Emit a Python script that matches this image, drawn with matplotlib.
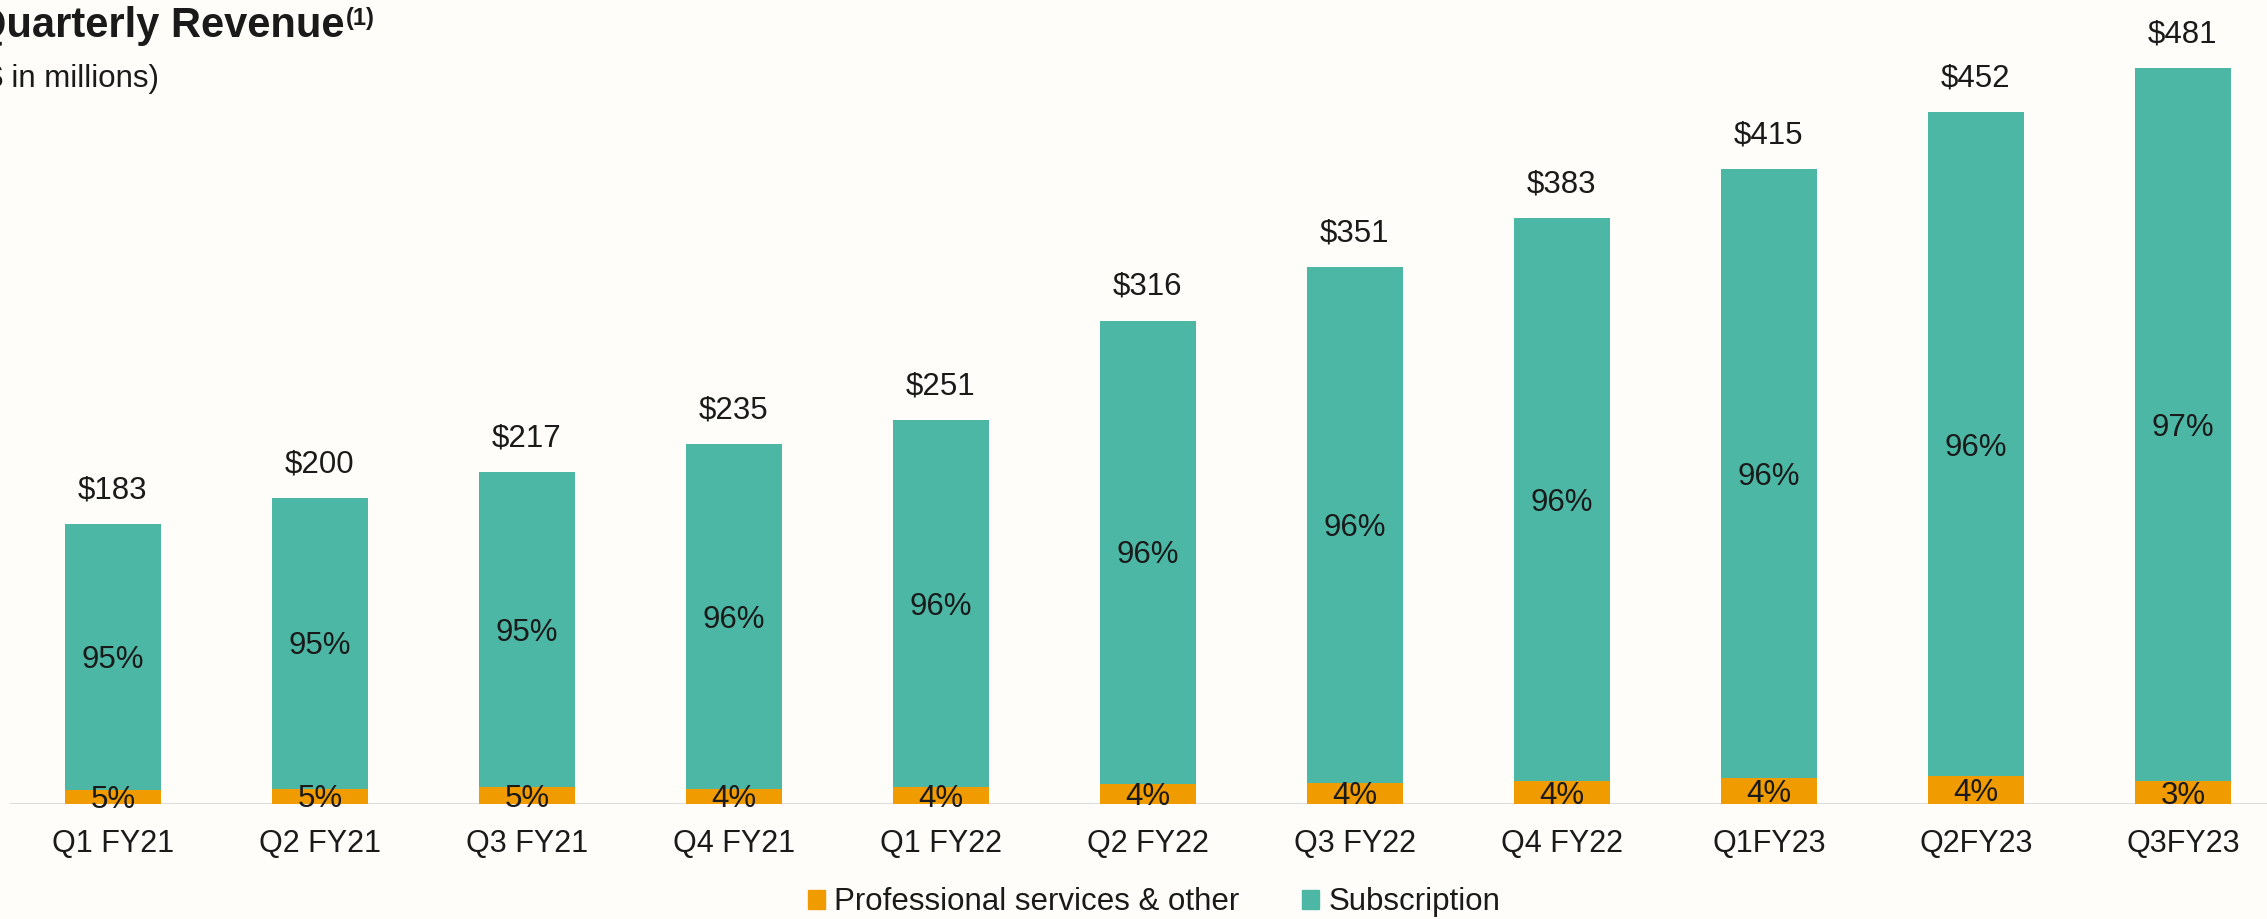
import matplotlib.pyplot as plt
from matplotlib.patches import Patch

# quarterly revenue, $ in millions
quarters = ["Q1 FY21", "Q2 FY21", "Q3 FY21", "Q4 FY21", "Q1 FY22", "Q2 FY22",
            "Q3 FY22", "Q4 FY22", "Q1FY23", "Q2FY23", "Q3FY23"]
totals = [183, 200, 217, 235, 251, 316, 351, 383, 415, 452, 481]
prof_services = [9, 10, 11, 10, 11, 13, 14, 15, 17, 18, 15]
subscription = [174, 190, 206, 225, 240, 303, 337, 368, 398, 434, 466]
prof_pct = [5, 5, 5, 4, 4, 4, 4, 4, 4, 4, 3]
sub_pct = [95, 95, 95, 96, 96, 96, 96, 96, 96, 96, 97]

teal = "#4DB7A5"
orange = "#F09B00"
bg = "#FEFDF9"
ink = "#1A1A1A"

plt.rcParams["font.family"] = ["Liberation Sans", "DejaVu Sans"]

W, H = 2267, 919
fig = plt.figure(figsize=(W / 100, H / 100), dpi=100, facecolor=bg)
ax = fig.add_axes([10 / W, 115 / H, 1 - 10 / W, 804 / H])
ax.set_facecolor(bg)

x = list(range(len(quarters)))
bw = 0.464
ax.bar(x, prof_services, width=bw, color=orange, label="Professional services & other")
ax.bar(x, subscription, width=bw, bottom=prof_services, color=teal, label="Subscription")

for i in x:
    ax.annotate(f"${totals[i]}", xy=(i, totals[i]), xytext=(0, 18.7),
                textcoords="offset points", ha="center", va="baseline",
                fontsize=22.5, color=ink)
    ax.annotate(f"{sub_pct[i]}%", xy=(i, prof_services[i] + subscription[i] / 2),
                xytext=(0, -8), textcoords="offset points", ha="center",
                va="baseline", fontsize=22.5, color=ink)
    ax.annotate(f"{prof_pct[i]}%", xy=(i, prof_services[i] / 2),
                xytext=(0, -8), textcoords="offset points", ha="center",
                va="baseline", fontsize=22.5, color=ink)

ax.axhline(0, color="#DDDDDD", lw=2.2, zorder=0)
ax.set_xlim(-0.497, 10.406)
ax.set_ylim(0, 525.5)
ax.set_xticks(x)
ax.set_xticklabels(quarters, fontsize=22, color=ink)
ax.tick_params(axis="x", length=0, pad=18)
ax.set_yticks([])
for s in ax.spines.values():
    s.set_visible(False)

# title, partly cut off at the left like the slide
fig.text(345 / W, 1 - 37 / H, "Quarterly Revenue", ha="right", va="baseline",
         fontsize=30, fontweight="bold", color=ink)
fig.text(346 / W, 1 - 25 / H, "(1)", ha="left", va="baseline", fontsize=17,
         fontweight="bold", color=ink)
fig.text(159 / W, 1 - 87 / H, "($ in millions)", ha="right", va="baseline",
         fontsize=22.5, color=ink)

handles = [Patch(color=orange), Patch(color=teal)]
fig.legend(handles, ["Professional services & other", "Subscription"],
           loc="center", bbox_to_anchor=(0.509, 0.018), ncol=2, frameon=False,
           fontsize=22.5, handlelength=0.55, handleheight=0.55,
           handletextpad=0.3, columnspacing=2.0, labelcolor=ink)

fig.savefig("out.png", dpi=100, facecolor=bg)
